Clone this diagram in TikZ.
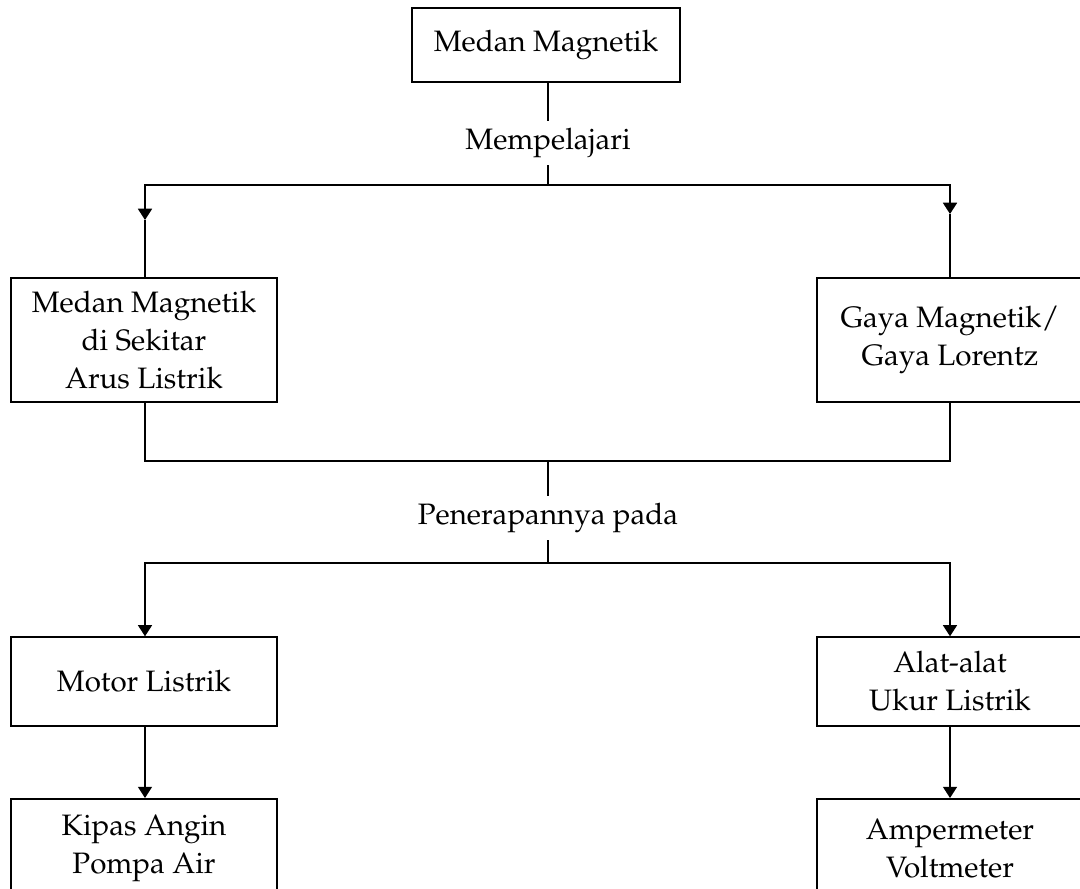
\documentclass[tikz,border=0pt]{standalone}
\usepackage[T1]{fontenc}
\usepackage{mathpazo}
\usepackage{tikz}
\usetikzlibrary{arrows.meta,positioning,calc}
\tikzset{
  box/.style={draw, line width=1.1pt, align=center, font=\fontsize{21}{27}\selectfont, minimum width=6.65cm, inner sep=3pt, fill=white},
  lbl/.style={font=\fontsize{21}{27}\selectfont, inner sep=5pt},
  ln/.style={line width=1.1pt},
  arr/.style={ln, -{Triangle[width=10pt, length=8pt]}}}
\begin{document}
\begin{tikzpicture}
  \useasboundingbox (0,0) rectangle (27,22.2);
  \clip (0,0) rectangle (27,22.2);
  % level 1
  \node[box, minimum width=6.7cm, minimum height=1.85cm] (medan) at (13.65,21.075) {Medan Magnetik};
  \node[lbl] (pelajari) at (13.7,18.62) {Mempelajari};
  % level 2
  \node[box, minimum height=3.1cm] (sekitar) at (3.6,13.7) {Medan Magnetik\\di Sekitar\\Arus Listrik};
  \node[box, minimum height=3.1cm] (lorentz) at (23.75,13.7) {Gaya Magnetik/\\Gaya Lorentz};
  \node[lbl] (terap) at (13.7,9.25) {Penerapannya pada};
  % level 3
  \node[box, minimum height=2.225cm] (motor) at (3.6,5.16) {Motor Listrik};
  \node[box, minimum height=2.225cm] (ukur) at (23.75,5.16) {Alat-alat\\Ukur Listrik};
  % level 4
  \node[box, minimum height=2.5cm, anchor=north] (kipas) at (3.6,2.25) {Kipas Angin\\Pompa Air};
  \node[box, minimum height=2.5cm, anchor=north] (ampere) at (23.75,2.25) {Ampermeter\\Voltmeter};
  % junctions
  \coordinate (j1) at (13.7,17.575);
  \coordinate (j2) at (13.7,10.675);
  \coordinate (j3) at (13.7,8.125);
  \coordinate (a1) at (3.625,16.7);
  \coordinate (a2) at (23.75,16.85);
  \draw[ln] (medan.south -| pelajari) -- (pelajari.north);
  \draw[ln] (pelajari.south) -- (j1);
  \draw[arr] (j1) -| (a1); \draw[ln] (a1) -- (sekitar.north -| a1);
  \draw[arr] (j1) -| (a2); \draw[ln] (a2) -- (lorentz.north);
  \draw[ln] (sekitar.south -| a1) |- (j2) -| (lorentz.south);
  \draw[ln] (j2) -- (terap.north);
  \draw[ln] (terap.south) -- (j3);
  \draw[arr] (j3) -| (motor.north -| a1);
  \draw[arr] (j3) -| (ukur.north);
  \draw[arr] (motor.south -| a1) -- (kipas.north -| a1);
  \draw[arr] (ukur) -- (ampere);
\end{tikzpicture}
\end{document}
